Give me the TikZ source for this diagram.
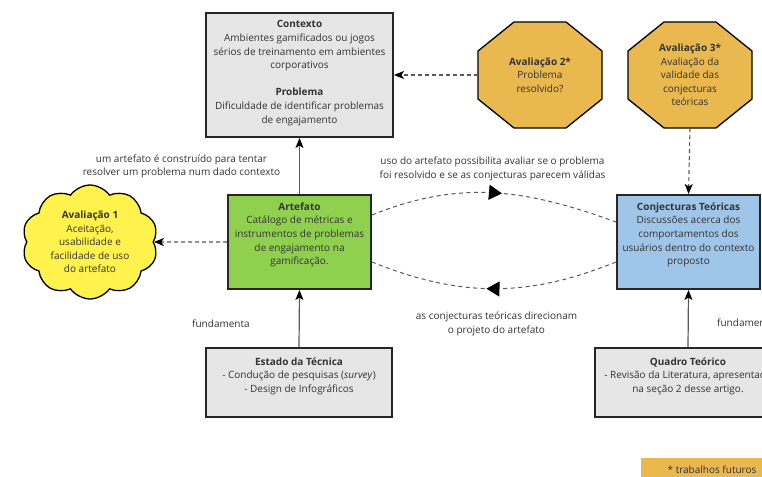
\documentclass[tikz,border=0pt]{standalone}
\usepackage{fontspec}
\setmainfont{Open Sans}
\usetikzlibrary{shapes.symbols,arrows.meta,decorations.markings,calc}
\definecolor{txt}{HTML}{333333}
\definecolor{boxgray}{HTML}{E6E6E6}
\definecolor{artgreen}{HTML}{8FD14F}
\definecolor{conjblue}{HTML}{9FC5E8}
\definecolor{avorange}{HTML}{E9B84E}
\definecolor{avyellow}{HTML}{FFF24D}
\definecolor{linegray}{HTML}{595959}
\begin{document}
\begin{tikzpicture}[x=1pt,y=-1pt,
  font=\fontsize{10}{13.6}\selectfont, text=txt,
  boxnode/.style={draw=black!85, line width=2pt, inner sep=0pt},
  boxtext/.style={align=center, inner sep=0pt, anchor=north},
  plain/.style={align=center, inner sep=0pt},
  octdraw/.style={draw=black, line width=1.3pt, fill=avorange, line join=miter},
  tipsmall/.style={-{Stealth[length=10pt,width=8pt,inset=2.5pt,color=black]}},
  solidarrow/.style={draw=linegray, line width=1.2pt, tipsmall},
  dasharrow/.style={draw=linegray, line width=1.1pt, dash pattern=on 4pt off 3pt, tipsmall},
  arcline/.style={draw=linegray, line width=1pt, dash pattern=on 4pt off 3.5pt,
    postaction={decorate}, decoration={markings,
      mark=at position 0.53 with {\arrow{Triangle[length=13pt,width=15pt,color=black]}}}}
]
\path[use as bounding box, clip] (0,0) rectangle (762,476);
\fill[white] (0,0) rectangle (762,476);

% octagon outlines
\draw[octdraw, shift={(540,75)}] (-26,-53) -- (26,-53) -- (62,-24) -- (62,24) -- (26,53) -- (-26,53) -- (-62,24) -- (-62,-24) -- cycle;
\draw[octdraw, shift={(690,75)}] (-26,-53) -- (26,-53) -- (62,-24) -- (62,24) -- (26,53) -- (-26,53) -- (-62,24) -- (-62,-24) -- cycle;

% boxes
\node[boxnode, fill=boxgray, minimum width=187pt, minimum height=124pt] (ctx) at (299.5,75) {};
\node[boxtext] (ctx-t) at ([yshift=-8.5pt]ctx.north) {\textbf{Contexto}\\Ambientes gamificados ou jogos\\sérios de treinamento em ambientes\\corporativos\\[13.6pt]\textbf{Problema}\\Dificuldade de identificar problemas\\de engajamento};

\node[boxnode, fill=artgreen, minimum width=143pt, minimum height=94pt] (art) at (299.5,242) {};
\node[boxtext] (art-t) at ([yshift=-8.5pt]art.north) {\textbf{Artefato}\\Catálogo de métricas e\\instrumentos de problemas\\de engajamento na\\gamificação.};

\node[boxnode, fill=conjblue, minimum width=143pt, minimum height=94pt] (conj) at (688.5,242) {};
\node[boxtext] (conj-t) at ([yshift=-8.5pt]conj.north) {\textbf{Conjecturas Teóricas}\\Discussões acerca dos\\comportamentos dos\\usuários dentro do contexto\\proposto};

\node[boxnode, fill=boxgray, minimum width=186pt, minimum height=69pt] (est) at (299,382.5) {};
\node[boxtext] (est-t) at ([yshift=-10.5pt]est.north) {\textbf{Estado da Técnica}\\- Condução de pesquisas (\textit{survey})\\- Design de Infográficos};

\node[boxnode, fill=boxgray, minimum width=186pt, minimum height=69pt] (qt) at (688,382.5) {};
\node[boxtext] (qt-t) at ([yshift=-10.5pt]qt.north) {\textbf{Quadro Teórico}\\- Revisão da Literatura, apresentada\\na seção 2 desse artigo.};

% evaluation shapes
\node[inner sep=0pt, minimum width=124pt, minimum height=106pt] (av2) at (540,75) {};
\node[plain] (av2-t) at (av2.center) {\textbf{Avaliação 2*}\\Problema\\resolvido?};
\node[inner sep=0pt, minimum width=124pt, minimum height=106pt] (av3) at (690,75) {};
\node[plain] (av3-t) at (av3.center) {\textbf{Avaliação 3*}\\Avaliação da\\validade das\\conjecturas\\teóricas};

\node[cloud, cloud puffs=10, cloud puff arc=110, cloud ignores aspect, draw=black, line width=1.3pt, fill=avyellow,
  minimum width=136pt, minimum height=114pt, inner sep=0pt] (av1) at (90,242) {};
\node[plain] (av1-t) at (av1.center) {\textbf{Avaliação 1}\\Aceitação,\\usabilidade e\\facilidade de uso\\do artefato};

% connectors
\draw[solidarrow] (art.north) -- (ctx.south);
\draw[solidarrow] (est.north) -- (art.south);
\draw[solidarrow] (qt.north) -- (conj.south);
\draw[dasharrow] (av2.west) -- (ctx.east);
\draw[dasharrow] (av3.south) -- (conj.north);
\draw[dasharrow] (art.west) -- (av1.east);

\draw[arcline] ([yshift=27pt]art.east) to[out=22, in=160] ([yshift=20pt]conj.west);
\draw[arcline] ([yshift=-20pt]conj.west) to[out=202, in=-22] ([yshift=-20pt]art.east);

% labels
\node[plain] (l1) at (181.5,166.5) {um artefato é construído para tentar\\resolver um problema num dado contexto};
\node[plain] (l2) at (492.5,169) {uso do artefato possibilita avaliar se o problema\\foi resolvido e se as conjecturas parecem válidas};
\node[plain] (l3) at (496.5,324) {as conjecturas teóricas direcionam\\o projeto do artefato};
\node[plain, anchor=west] (f1) at (192,324) {fundamenta};
\node[plain, anchor=west] (f2) at (717,323) {fundamenta};

\node[fill=avorange, minimum width=142pt, minimum height=24pt, inner sep=0pt] (tf) at (712,470) {* trabalhos futuros};
\end{tikzpicture}
\end{document}
